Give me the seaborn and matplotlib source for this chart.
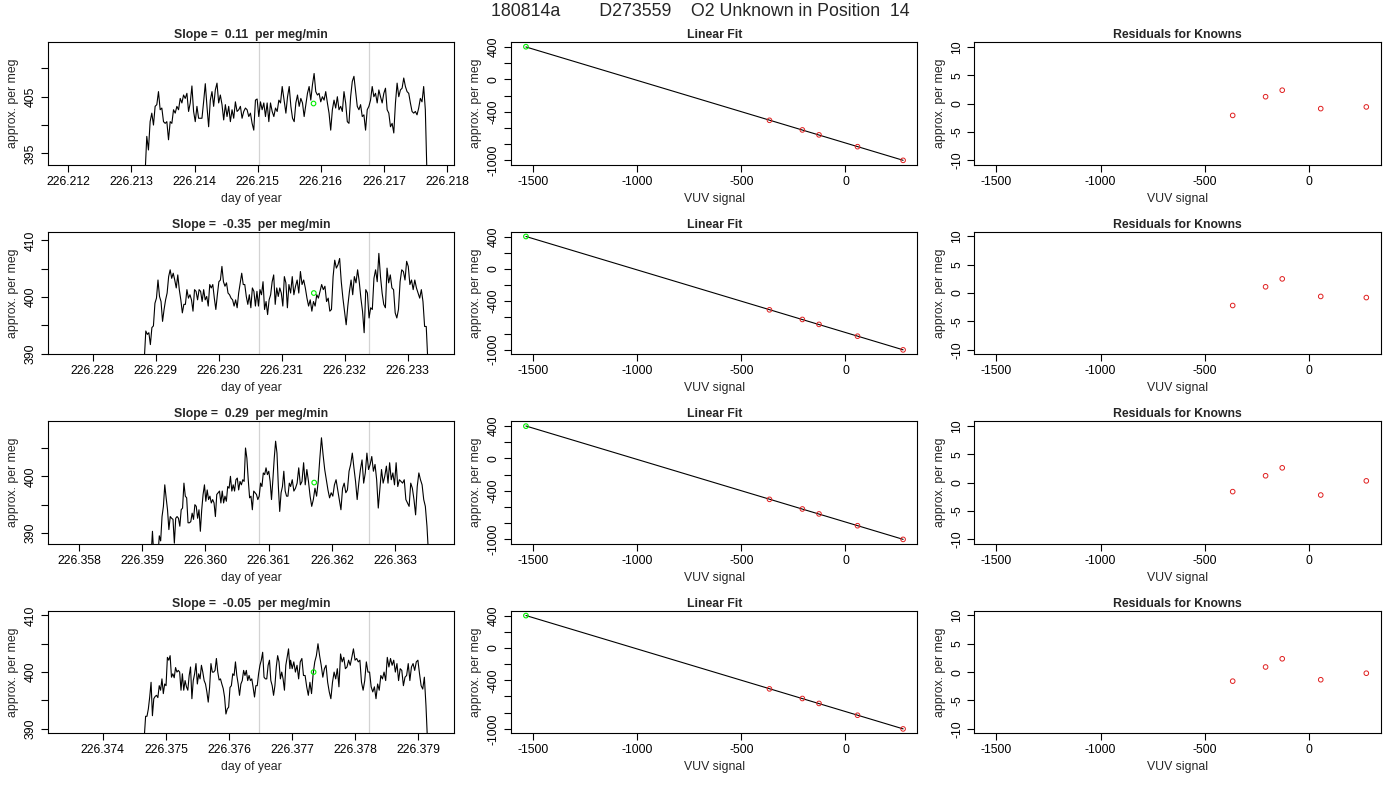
import numpy as np
import matplotlib
matplotlib.use("Agg")
import matplotlib.pyplot as plt
import seaborn as sns
from matplotlib.ticker import MultipleLocator, FuncFormatter, FormatStrFormatter

header = "180814a        D273559    O2 Unknown in Position  14"
slopes = [0.11, -0.35, 0.29, -0.05]

# time series windows (day of year): start/end of each half of the record
run_t = [
    (226.213216, 226.215415, 226.215447, 226.217683),
    (226.228817, 226.231115, 226.231142, 226.233323),
    (226.359031, 226.361326, 226.361347, 226.363530),
    (226.374657, 226.376967, 226.376978, 226.379151),
]
run_xlim = [(226.211673, 226.218115), (226.227283, 226.233742),
            (226.357504, 226.363936), (226.373126, 226.379574)]
# grey window marks and the unknown (green) point
win_lo = [226.215013, 226.230639, 226.360850, 226.376477]
win_hi = [226.216757, 226.232387, 226.362592, 226.378223]
unk_t = [226.215885, 226.231511, 226.361720, 226.377343]
unk_val = [403.8, 400.7, 398.9, 400.0]

ts1_a = [391.5, 398.0, 395.6, 400.6, 402.1, 400.0, 403.3, 403.6, 405.9, 402.7, 403.0, 400.6, 400.3,
         400.6, 397.4, 400.6, 400.3, 402.7, 402.1, 403.3, 402.7, 404.7, 403.9, 405.3, 404.7, 405.6,
         402.4, 403.9, 406.9, 402.4, 400.6, 403.3, 401.2, 401.2, 401.2, 404.1, 407.3, 403.3, 399.7,
         404.4, 405.9, 403.3, 406.2, 407.4, 403.9, 405.3, 403.6, 400.9, 403.6, 401.5, 403.3, 400.6,
         402.7, 401.2, 404.1, 402.4, 402.7, 403.3, 401.2, 402.4, 403.0, 402.7, 401.5, 402.1, 400.3,
         399.1, 404.4, 404.6, 401.5, 404.1, 402.7, 403.9, 401.5, 403.9, 400.6, 403.9, 402.4, 401.5,
         403.0, 402.4, 404.4, 403.9, 406.8, 404.7]
ts1_b = [402.1, 405.0, 406.8, 403.3, 401.2, 400.6, 403.9, 405.3, 403.3, 404.7, 403.9, 401.5, 403.6,
         405.6, 406.8, 404.4, 407.1, 409.1, 405.9, 405.3, 405.6, 404.1, 405.0, 404.4, 405.9, 403.9,
         402.1, 399.1, 402.7, 404.4, 403.0, 405.0, 402.7, 403.3, 402.4, 405.9, 403.9, 400.6, 400.3,
         405.0, 407.7, 408.6, 405.9, 403.3, 402.7, 403.6, 401.5, 401.8, 399.1, 402.7, 403.3, 404.4,
         406.8, 405.0, 405.6, 403.9, 406.2, 405.0, 403.9, 405.6, 406.5, 402.7, 402.1, 399.7, 400.3,
         398.6, 403.9, 407.4, 405.0, 406.2, 406.5, 408.3, 406.8, 405.9, 405.6, 403.9, 402.4, 402.1,
         402.4, 401.8, 403.0, 404.7, 404.1, 406.8, 402.7, 391.0]

ts2_a = [389.0, 394.0, 393.4, 393.7, 391.6, 394.6, 394.9, 398.9, 399.8, 403.0, 400.1, 399.2, 395.7,
         397.8, 399.5, 400.7, 403.6, 404.8, 403.3, 404.2, 403.0, 401.6, 403.9, 401.3, 399.5, 397.2,
         398.7, 398.7, 401.3, 399.8, 400.4, 399.5, 397.5, 401.3, 401.0, 399.5, 401.3, 401.0, 399.2,
         401.3, 399.5, 400.1, 398.4, 402.2, 401.6, 402.2, 399.8, 397.8, 400.4, 402.7, 403.0, 405.4,
         402.7, 401.9, 402.5, 400.7, 400.4, 399.8, 399.5, 398.4, 399.5, 398.1, 400.7, 402.5, 404.2,
         402.2, 402.2, 400.1, 398.7, 400.4, 398.1, 401.6, 401.0, 398.4, 401.0, 398.4, 401.3, 400.4,
         402.7, 397.8, 399.2, 396.9, 399.5, 400.4, 402.7, 403.9, 398.7, 401.6, 400.1, 401.6, 400.7,
         398.4, 403.6, 402.5, 398.1, 402.2]
ts2_b = [400.7, 403.6, 400.4, 401.9, 403.0, 400.7, 404.5, 402.2, 403.0, 401.6, 399.8, 398.4, 399.5,
         397.5, 399.2, 398.4, 400.4, 399.8, 401.0, 402.2, 401.3, 401.9, 399.2, 399.8, 397.5, 397.8,
         403.6, 406.5, 405.1, 405.7, 406.8, 402.7, 399.8, 397.5, 395.1, 398.4, 401.0, 403.0, 400.4,
         403.6, 402.5, 404.8, 402.7, 399.8, 397.5, 393.7, 401.3, 400.7, 396.3, 398.1, 397.8, 403.3,
         404.8, 402.7, 407.7, 403.6, 400.7, 398.7, 398.1, 405.1, 402.5, 403.9, 401.6, 401.3, 397.2,
         396.3, 397.8, 402.7, 404.8, 404.5, 403.0, 406.3, 405.4, 402.2, 403.0, 401.3, 403.0, 401.6,
         400.7, 399.8, 401.3, 399.2, 394.8, 394.8, 388.5]

ts3_a = [385.0, 385.0, 385.0, 385.0, 385.0, 386.0, 390.3, 386.0, 385.0, 385.0, 386.0, 389.5, 388.6,
         392.9, 394.7, 398.5, 396.2, 394.1, 390.6, 392.9, 392.6, 392.4, 388.2, 392.6, 392.9, 392.6,
         391.2, 394.1, 394.4, 398.8, 396.5, 396.2, 391.8, 391.8, 392.0, 393.5, 392.4, 395.0, 394.7,
         392.6, 394.1, 390.3, 394.1, 396.8, 398.5, 395.6, 397.6, 395.9, 396.5, 395.3, 395.9, 395.3,
         392.9, 396.8, 397.1, 397.4, 395.3, 397.4, 395.3, 396.5, 395.6, 398.2, 397.9, 400.0, 397.4,
         398.5, 397.4, 399.4, 399.7, 397.6, 399.1, 398.5, 399.4, 399.1, 405.0, 403.2, 399.4, 396.2,
         396.5, 394.1, 397.4, 397.1, 396.8, 395.9, 396.5, 398.8, 398.2, 400.6, 400.3, 401.5, 400.3,
         400.9, 399.1, 395.9, 399.4, 403.2, 406.2, 404.1, 398.2, 393.8, 397.1, 398.2, 400.9, 397.4,
         396.5, 396.5, 398.8]
ts3_b = [398.2, 399.4, 397.4, 397.9, 398.8, 401.5, 398.5, 399.1, 402.4, 398.5, 401.2, 399.1, 396.5,
         394.7, 395.9, 397.9, 396.5, 399.1, 403.2, 406.8, 403.8, 401.2, 399.4, 397.6, 396.2, 397.1,
         396.5, 398.5, 399.4, 397.6, 395.9, 394.1, 397.9, 398.8, 397.1, 397.6, 400.9, 402.1, 404.1,
         401.5, 399.1, 395.9, 398.8, 401.2, 402.9, 398.8, 400.6, 404.1, 401.2, 402.1, 403.5, 400.9,
         402.1, 399.4, 394.4, 397.9, 401.2, 398.8, 400.0, 401.8, 398.8, 402.4, 399.4, 400.6, 398.5,
         402.4, 398.2, 399.4, 399.1, 398.8, 399.4, 395.9, 395.3, 394.7, 398.8, 397.9, 395.9, 393.2,
         398.2, 400.6, 399.4, 398.5, 395.9, 394.7, 391.2, 386.0]

ts4_a = [388.5, 392.2, 392.2, 393.5, 395.6, 398.2, 392.3, 395.3, 395.7, 395.9, 395.5, 397.6, 396.8,
         398.8, 396.2, 397.9, 397.6, 402.6, 402.1, 402.9, 399.1, 399.7, 399.0, 400.8, 400.0, 400.3,
         400.0, 396.8, 399.7, 396.8, 398.5, 397.4, 396.8, 399.4, 400.9, 395.3, 398.5, 399.7, 401.5,
         397.9, 399.7, 398.8, 401.2, 400.0, 398.5, 397.9, 396.5, 394.7, 397.3, 401.5, 400.0, 400.0,
         400.3, 402.4, 400.0, 398.6, 398.8, 397.9, 397.1, 395.6, 392.6, 393.5, 393.8, 397.3, 397.6,
         399.7, 399.4, 401.8, 399.4, 397.9, 395.9, 397.9, 398.5, 400.3, 399.4, 400.3, 398.5, 399.4,
         398.5, 398.8, 397.3, 395.6, 397.6, 397.6, 399.7, 401.2, 402.1, 403.5, 399.1, 398.8, 398.8,
         401.2, 402.1, 398.5, 397.6, 395.9, 397.6, 400.9, 402.9, 401.8, 398.8, 400.0, 398.8, 396.8,
         401.2, 402.6, 404.1, 400.6]
ts4_b = [402.1, 400.6, 401.8, 400.0, 401.2, 398.8, 401.8, 402.4, 399.4, 399.4, 397.4, 395.9, 398.2,
         396.2, 399.7, 401.8, 402.9, 405.0, 402.9, 401.2, 399.1, 400.6, 401.2, 398.2, 396.5, 395.3,
         398.2, 400.0, 398.8, 400.6, 397.4, 403.2, 401.8, 402.6, 400.6, 400.9, 402.1, 401.2, 402.6,
         404.1, 402.1, 402.4, 401.8, 402.1, 398.2, 396.8, 398.5, 401.8, 400.0, 400.0, 397.4, 396.5,
         397.4, 395.3, 397.9, 396.8, 399.4, 398.8, 400.0, 398.5, 402.6, 400.9, 402.4, 401.2, 402.1,
         400.0, 401.5, 398.5, 400.6, 400.3, 397.6, 399.1, 399.4, 401.5, 398.5, 400.9, 401.5, 400.3,
         401.8, 402.1, 399.7, 397.6, 397.0, 399.1, 394.1, 387.5]

series = [(ts1_a, ts1_b), (ts2_a, ts2_b), (ts3_a, ts3_b), (ts4_a, ts4_b)]

# calibration: VUV signal of the knowns and unknown, assigned values
known_vuv = [-365, -207, -127, 58, 277]
known_val = [-506, -625, -686, -832, -1001]
unk_vuv = -1535
residuals = [
    [-2.1, 1.2, 2.35, -0.9, -0.6],
    [-2.2, 1.1, 2.5, -0.6, -0.8],
    [-1.6, 1.2, 2.6, -2.2, 0.3],
    [-1.6, 0.9, 2.35, -1.35, -0.2],
]
fit_ylabels = [-1000, -400, 0, 400]

sns.set_theme(style="ticks")
plt.rcParams["font.family"] = ["Liberation Sans", "DejaVu Sans"]
plt.rcParams["axes.unicode_minus"] = False
plt.rcParams["ytick.alignment"] = "center"

FS = 8.8
fig = plt.figure(figsize=(14, 8), dpi=100)
gs = fig.add_gridspec(4, 3, left=0.0341, right=0.9862, bottom=0.0834, top=0.9471,
                      wspace=0.1395, hspace=0.5485)


def style(ax, title, xlabel):
    for s in ax.spines.values():
        s.set_visible(True)
        s.set_linewidth(0.8)
        s.set_color("black")
    ax.tick_params(direction="out", length=5, width=0.8, pad=3, labelsize=FS, colors="black")
    ax.tick_params(axis="y", labelrotation=90)
    ax.set_title(title, fontsize=FS, fontweight="bold", pad=3)
    ax.set_xlabel(xlabel, fontsize=FS, labelpad=3.5)
    ax.set_ylabel("approx. per meg", fontsize=FS, labelpad=4)


for i in range(4):
    # time series of the run
    ax = fig.add_subplot(gs[i, 0])
    a, b = series[i]
    t0, t1, t2, t3 = run_t[i]
    t = np.concatenate([np.linspace(t0, t1, len(a)), np.linspace(t2, t3, len(b))])
    v = np.array(a + b)
    ax.axvline(win_lo[i], color="#d3d3d3", lw=0.9, zorder=1)
    ax.axvline(win_hi[i], color="#d3d3d3", lw=0.9, zorder=1)
    sns.lineplot(x=t, y=v, ax=ax, color="black", linewidth=0.8, estimator=None, sort=False, zorder=2)
    sns.scatterplot(x=[unk_t[i]], y=[unk_val[i]], ax=ax, s=11, facecolor="none",
                    edgecolor="#00ee00", linewidth=0.8, zorder=3)
    ax.set_xlim(*run_xlim[i])
    lo, hi = unk_val[i] - 10.8, unk_val[i] + 10.8
    ax.set_ylim(lo, hi)
    ax.xaxis.set_major_locator(MultipleLocator(0.001))
    ax.xaxis.set_major_formatter(FormatStrFormatter("%.3f"))
    ax.yaxis.set_major_locator(MultipleLocator(5))
    first = np.ceil(lo / 5) * 5
    ax.yaxis.set_major_formatter(FuncFormatter(
        lambda val, pos, f=first: f"{val:.0f}" if round((val - f) / 5) % 2 == 0 else ""))
    style(ax, f"Slope =  {slopes[i]:.2f}  per meg/min", "day of year")

    # linear fit
    ax = fig.add_subplot(gs[i, 1])
    coef = np.polyfit(known_vuv, known_val, 1)
    line_x = np.array([unk_vuv, max(known_vuv)])
    sns.lineplot(x=line_x, y=np.polyval(coef, line_x), ax=ax, color="black", linewidth=0.8)
    sns.scatterplot(x=known_vuv, y=known_val, ax=ax, s=11, facecolor="none",
                    edgecolor="#e02020", linewidth=0.7, zorder=3)
    sns.scatterplot(x=[unk_vuv], y=[unk_val[i]], ax=ax, s=11, facecolor="none",
                    edgecolor="#00ee00", linewidth=0.8, zorder=3)
    ax.set_xlim(-1607, 346)
    ax.set_ylim(-1055, 458)
    ax.xaxis.set_major_locator(MultipleLocator(500))
    ax.xaxis.set_major_formatter(FuncFormatter(lambda val, pos: f"{val:.0f}"))
    ax.yaxis.set_major_locator(MultipleLocator(200))
    ax.yaxis.set_major_formatter(FuncFormatter(
        lambda val, pos: f"{val:.0f}" if round(val) in fit_ylabels else ""))
    style(ax, "Linear Fit", "VUV signal")

    # residuals for knowns
    ax = fig.add_subplot(gs[i, 2])
    sns.scatterplot(x=known_vuv, y=residuals[i], ax=ax, s=11, facecolor="none",
                    edgecolor="#e02020", linewidth=0.7, zorder=3)
    ax.set_xlim(-1607, 346)
    ax.set_ylim(-10.8, 10.8)
    ax.xaxis.set_major_locator(MultipleLocator(500))
    ax.xaxis.set_major_formatter(FuncFormatter(lambda val, pos: f"{val:.0f}"))
    ax.yaxis.set_major_locator(MultipleLocator(5))
    ax.yaxis.set_major_formatter(FuncFormatter(lambda val, pos: f"{val:.0f}"))
    style(ax, "Residuals for Knowns", "VUV signal")

fig.text(0.5, 0.986, header, ha="center", va="center", fontsize=12.8)

fig.savefig("out.png", dpi=100)
